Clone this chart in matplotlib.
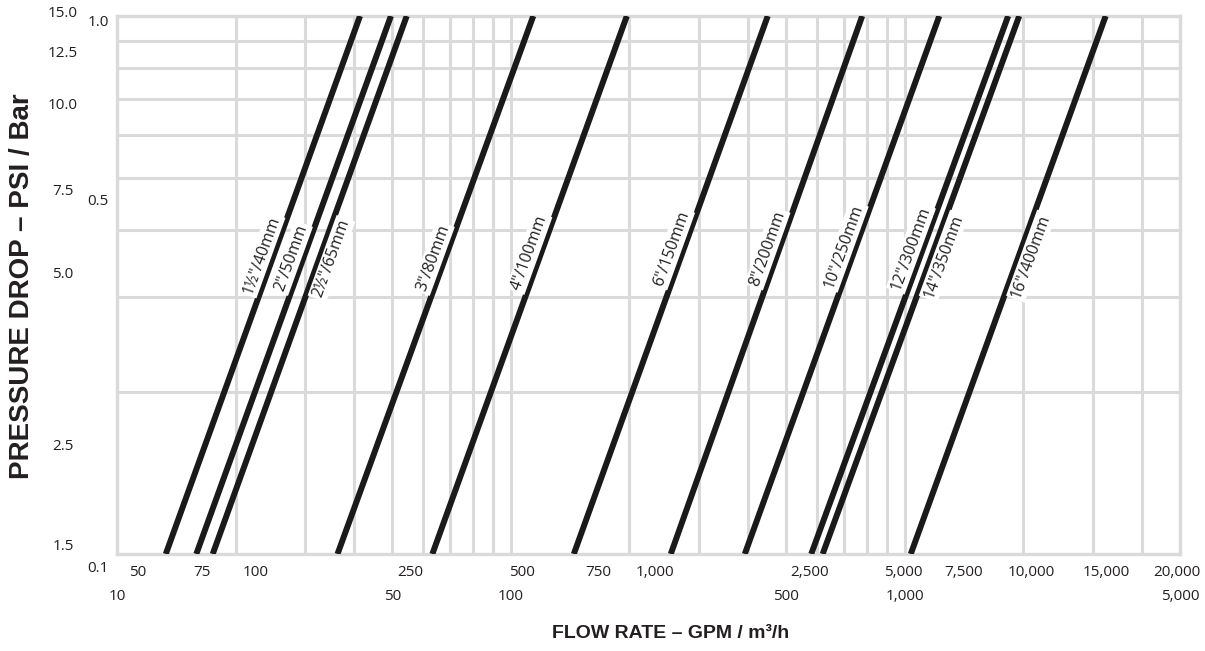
import numpy as np
import matplotlib.pyplot as plt
from matplotlib.transforms import blended_transform_factory

plt.rcParams['font.family'] = ['Open Sans', 'DejaVu Sans']

# pipe sizes and flow (m3/h) at 0.1 bar and 1.0 bar pressure drop
sizes = ['1½"/40mm', '2"/50mm', '2½"/65mm', '3"/80mm', '4"/100mm', '6"/150mm',
         '8"/200mm', '10"/250mm', '12"/300mm', '14"/350mm', '16"/400mm']
flow_low = [13.3, 15.9, 17.5, 36.3, 63.2, 144.5, 254.7, 392.6, 579, 619, 1036]
flow_high = [41.4, 49.6, 54.4, 114.0, 197, 449, 780, 1224, 1831, 1953, 3238]
drop_bar = [0.1, 1.0]

# where the size labels sit (bar) and on which side of the line
label_drop = [0.354, 0.349, 0.36, 0.349, 0.357, 0.364, 0.364, 0.367, 0.364, 0.364, 0.364]
label_side = [1, 1, -1, 1, 1, 1, 1, 1, 1, -1, -1]

# axis labels
m3h_ticks = [10, 50, 100, 500, 1000, 5000]
m3h_labels = ['10', '50', '100', '500', '1,000', '5,000']
gpm_labels = ['50', '75', '100', '250', '500', '750', '1,000', '2,500', '5,000',
              '7,500', '10,000', '15,000', '20,000']
gpm_pos = [11.3, 16.4, 22.5, 55.4, 106.6, 166.3, 232.7, 574, 994, 1411, 2101, 3256, 4901]
psi_labels = ['15.0', '12.5', '10.0', '7.5', '5.0', '2.5', '1.5']
psi_pos = [1.0086, 0.8535, 0.6805, 0.4717, 0.3308, 0.1584, 0.1032]
bar_labels = ['1.0', '0.5', '0.1']
bar_pos = [0.9705, 0.453, 0.0938]

grid_col = '#dadada'
txt_col = '#231f20'

fig = plt.figure(figsize=(12.05, 6.51), dpi=100)
ax = fig.add_axes([117 / 1205, 1 - 554 / 651, (1180 - 117) / 1205, (554 - 16) / 651])
ax.set_xscale('log')
ax.set_yscale('log')
ax.set_xlim(10, 5000)
ax.set_ylim(0.1, 1.0)

# grid
minor_x = [k * 10 ** e for e in (1, 2, 3) for k in range(2, 10) if k * 10 ** e < 5000]
ax.set_xticks(m3h_ticks, m3h_labels)
ax.set_xticks(minor_x, minor=True)
ax.set_yticks([0.1, 1.0], [])
ax.set_yticks([k / 10 for k in range(2, 10)], minor=True)
ax.yaxis.set_minor_formatter(plt.NullFormatter())
ax.xaxis.set_minor_formatter(plt.NullFormatter())
ax.tick_params(which='both', length=0)
ax.tick_params(axis='x', pad=25, labelsize=11, labelcolor=txt_col)
ax.grid(True, which='both', color=grid_col, linewidth=2.2)
ax.set_axisbelow(True)
for s in ax.spines.values():
    s.set_color(grid_col)
    s.set_linewidth(2.4)

# lines
for lo, hi in zip(flow_low, flow_high):
    ax.plot([lo, hi], drop_bar, color='#1a1a1a', linewidth=4.3, solid_capstyle='butt', zorder=3)

# labels along the lines
for name, lo, hi, pl, side in zip(sizes, flow_low, flow_high, label_drop, label_side):
    p0 = ax.transData.transform((lo, drop_bar[0]))
    p1 = ax.transData.transform((hi, drop_bar[1]))
    ang = np.arctan2(p1[1] - p0[1], p1[0] - p0[0])
    t = np.log10(pl / drop_bar[0]) / np.log10(drop_bar[1] / drop_bar[0])
    qx = 10 ** (np.log10(lo) + t * (np.log10(hi) - np.log10(lo)))
    off = 11.5 * side
    ax.annotate(name, xy=(qx, pl), xytext=(-np.sin(ang) * off, np.cos(ang) * off),
                textcoords='offset pixels', rotation=np.degrees(ang), rotation_mode='anchor',
                ha='center', va='center', fontsize=11.5, color=txt_col, zorder=5,
                bbox=dict(boxstyle='square,pad=0.12', fc='white', ec='none'))

# secondary labels
tr_y = blended_transform_factory(fig.transFigure, ax.transData)
for lab, p in zip(psi_labels, psi_pos):
    fig.text(63 / 1205, p, lab, transform=tr_y, ha='center', va='center', fontsize=11, color=txt_col)
for lab, p in zip(bar_labels, bar_pos):
    fig.text(98 / 1205, p, lab, transform=tr_y, ha='center', va='center', fontsize=11, color=txt_col)
tr_x = blended_transform_factory(ax.transData, fig.transFigure)
for lab, q in zip(gpm_labels, gpm_pos):
    fig.text(q, 1 - 572 / 651, lab, transform=tr_x, ha='center', va='center', fontsize=11, color=txt_col)

fig.text(671 / 1205, 1 - 634 / 651, 'FLOW RATE – GPM / m³/h', ha='center', va='center',
         fontsize=14, fontweight='bold', family='Liberation Sans', color=txt_col)
fig.text(22 / 1205, 1 - 286 / 651, 'PRESSURE DROP – PSI / Bar', ha='center', va='center',
         rotation=90, fontsize=20, fontweight='bold', family='Liberation Sans', color=txt_col)

fig.savefig('out.png', dpi=100)
